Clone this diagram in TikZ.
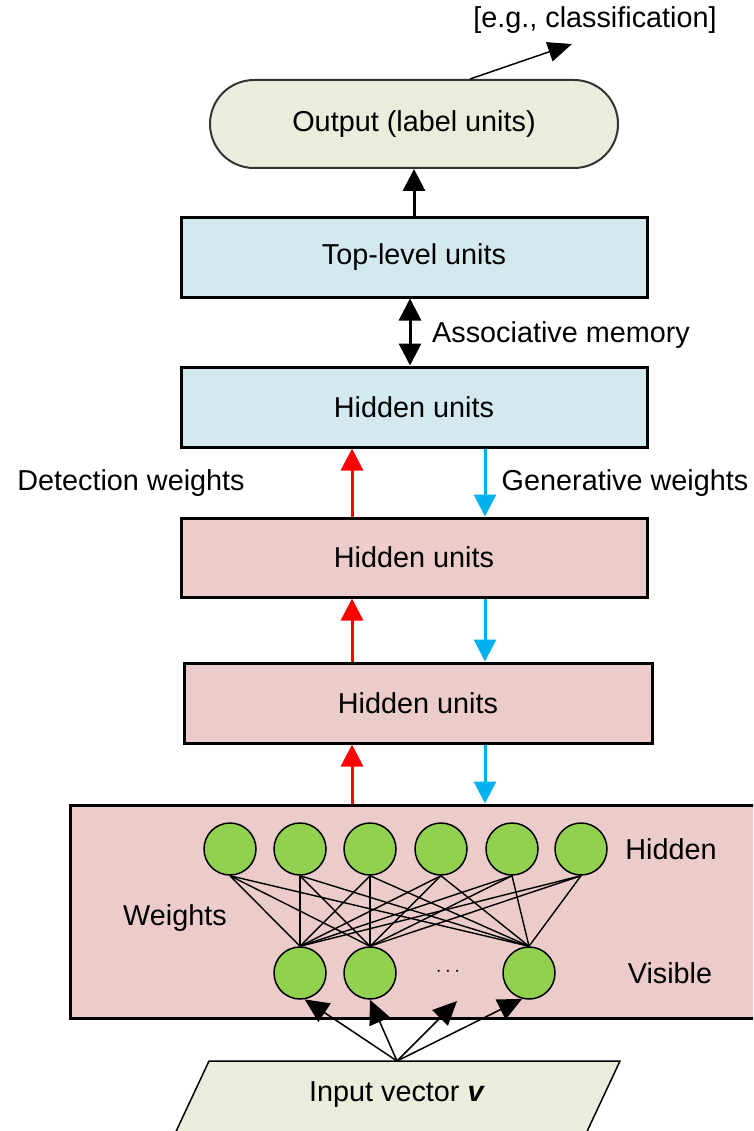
\documentclass[tikz,border=0pt]{standalone}
\usepackage{fontspec}
\setmainfont{Liberation Sans}
\usetikzlibrary{arrows.meta,shapes.geometric}
\definecolor{outfill}{HTML}{E9EDDC}
\definecolor{bluefill}{HTML}{D3E9EE}
\definecolor{pinkfill}{HTML}{ECCBCB}
\definecolor{nodegreen}{HTML}{92D050}
\definecolor{genblue}{HTML}{00B0F0}
\tikzset{
  layerbox/.style={draw=black, line width=3pt, inner sep=0pt, minimum width=466pt, minimum height=79pt},
  unit/.style={circle, draw=black, line width=1.5pt, fill=nodegreen, minimum size=52pt, inner sep=0pt},
  wline/.style={line width=1.4pt, black},
  detarrow/.style={draw=red, line width=3pt, -{Triangle[width=22pt,length=22pt]}},
  genarrow/.style={draw=genblue, line width=3pt, -{Triangle[width=22pt,length=22pt]}},
  blkarrow/.style={draw=black, line width=3pt, -{Triangle[width=22pt,length=22pt]}},
  inarrow/.style={draw=black, line width=1.5pt, -{Triangle[width=22pt,length=24pt]}},
  lbl/.style={inner sep=0pt}
}
\begin{document}
\begin{tikzpicture}[x=1pt,y=-1pt,font=\fontsize{28.8}{34}\selectfont]
\useasboundingbox (0,0) rectangle (753,1131);
\clip (0,0) rectangle (753,1131);

% helper x positions
\coordinate (rx) at (352,0);
\coordinate (bx) at (485,0);
\coordinate (ax) at (410,0);

% output
\node[draw=black!80, line width=2pt, fill=outfill, rounded corners=44pt, minimum width=408pt, minimum height=88pt, inner sep=0pt] (out) at (414,124) {Output (label units)};
\node[lbl] (cls) at (595,20) {[e.g., classification]};
\coordinate (clsend) at (572,44);
\draw[draw=black, line width=1.5pt, -{Triangle[width=20pt,length=24pt]}] (out.north -| 470,0) -- (clsend);

% layers
\node[layerbox, fill=bluefill] (top) at (414,257.5) {Top-level units};
\node[layerbox, fill=bluefill, minimum height=80pt] (h1) at (414,407) {Hidden units};
\node[layerbox, fill=pinkfill] (h2) at (414,557.5) {Hidden units};
\node[layerbox, fill=pinkfill, minimum width=468pt, minimum height=80pt] (h3) at (418,703) {Hidden units};
\node[draw=black, line width=3pt, fill=pinkfill, minimum width=705pt, minimum height=213pt, inner sep=0pt] (big) at (422.5,911.5) {};

% connectors between layers
\draw[blkarrow] (top.north) -- (out.south);
\draw[draw=black, line width=3pt, {Triangle[width=22pt,length=22pt]}-{Triangle[width=22pt,length=22pt]}] (top.south -| ax) -- (h1.north -| ax);
\node[lbl, anchor=west] (assoc) at (432,335) {Associative memory};

\draw[detarrow] (h2.north -| rx) -- (h1.south -| rx);
\draw[genarrow] (h1.south -| bx) -- (h2.north -| bx);
\draw[detarrow] (h3.north -| rx) -- (h2.south -| rx);
\draw[genarrow] (h2.south -| bx) -- (h3.north -| bx);
\draw[detarrow] (big.north -| rx) -- (h3.south -| rx);
\draw[genarrow] (h3.south -| bx) -- (big.north -| bx);

\node[lbl] (det) at (131,483) {Detection weights};
\node[lbl] (gen) at (625,483) {Generative weights};

% RBM units
\foreach \i/\x in {1/230,2/300,3/370,4/441,5/512,6/581}
  \node[unit] (hh\i) at (\x,849) {};
\node[unit] (v1) at (300,973) {};
\node[unit] (v2) at (370,973) {};
\node[unit] (v3) at (529,973) {};
\node[lbl, font=\fontsize{20}{22}\selectfont] (dots) at (448,972) {$\cdots$};

\foreach \i in {1,...,6}
  \foreach \v in {v1,v2,v3}
    \draw[wline] (hh\i.south) -- (\v.north);

\node[lbl] (hidlbl) at (671,849) {Hidden};
\node[lbl] (vislbl) at (670,973) {Visible};
\node[lbl] (wlbl) at (175,918) {Weights};

% input
\coordinate (apex) at (397,1061);
\draw[black, line width=1.5pt, fill=outfill] (209,1061) -- (620,1061) -- (583,1140) -- (172,1140) -- cycle;
\node[lbl] (inp) at (397,1095) {Input vector \textbf{\textit{v}}};
\coordinate (dotsin) at (457,1001);
\draw[inarrow] (apex) -- (v1.-80);
\draw[inarrow] (apex) -- (v2.south);
\draw[inarrow] (apex) -- (dotsin);
\draw[inarrow] (apex) -- (v3.-105);
\end{tikzpicture}
\end{document}
